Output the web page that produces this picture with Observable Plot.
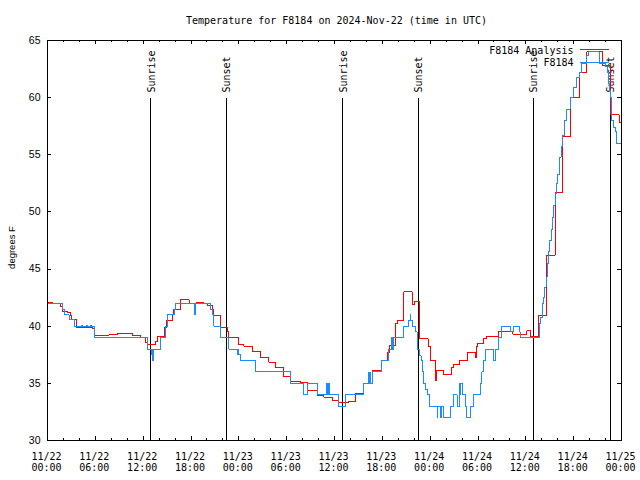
<!DOCTYPE html>
<html><head><meta charset="utf-8">
<script src="https://cdn.jsdelivr.net/npm/d3@7"></script>
<script src="https://cdn.jsdelivr.net/npm/@observablehq/plot@0.6"></script>
<style>
body{margin:0;background:#fff;}
svg path, svg line, svg rect {shape-rendering: crispEdges;}
</style>
</head><body><div id="chart"></div>
<script>
// ---- data (hours since 2024-11-22 00:00 UTC) ----
const startUTC = Date.UTC(2024, 10, 22);
const titleText = "Temperature for F8184 on 2024-Nov-22 (time in UTC)";
const yLabelText = "degrees F";
const seriesNames = ["F8184 Analysis", "F8184"];
const seriesColors = ["#ff0000", "#1a8cff"];
const yTicks = [30, 35, 40, 45, 50, 55, 60, 65];

const analysisHours = [0,0.62,1.67,1.92,2.5,2.84,3.04,3.67,5.63,5.84,7.72,8.77,10.6,11.69,12.32,12.53,13.57,13.86,14.62,14.95,15.66,15.79,16.7,17.75,18.71,19.63,20.04,20.67,20.88,21.72,22.55,22.76,24.01,24.64,25.77,26.73,27.78,28.61,29.66,30.5,31.74,32.66,33.83,34.66,35.7,36.54,37.8,38.63,39.68,40.72,41.85,42.69,42.94,43.65,43.86,44.69,45.74,46.07,46.7,47.74,48.03,48.66,48.78,49.7,50.63,50.96,51.71,52.71,53.67,53.8,53.97,54.72,55.05,56.6,58.39,60.14,60.56,61.6,62.55,63.66,64.66,65.66,66.7,67.67,69.6,70.57,71.7,72];
const analysisTemps = [42.1,42.0,41.7,41.3,41.2,40.9,40.6,39.9,39.8,39.2,39.3,39.4,39.2,39.0,38.6,38.4,38.7,39.1,39.9,40.5,41.0,41.5,42.3,42.0,42.1,42.0,41.8,41.5,40.9,39.9,39.5,39.0,38.4,38.25,37.8,37.3,36.85,36.35,35.6,35.2,35.05,34.4,33.9,33.8,33.5,33.35,33.4,34.1,35.0,36.1,37.0,37.7,38.3,40.2,40.5,43.0,41.9,42.2,38.9,38.2,37.0,35.25,36.1,35.75,36.35,36.65,37.0,37.7,37.3,38.2,38.5,38.9,39.1,39.5,39.3,39.6,39.1,40.9,46.2,51.7,56.6,60.0,62.2,64.0,62.8,58.5,57.85,57.85];

const obsHours = [0,1.88,2.08,2.71,3.34,4.3,4.4,4.9,5.0,5.4,5.5,5.84,12.52,13.05,13.12,13.2,13.3,14.2,14.82,15.03,15.87,16.08,18.46,18.52,20.46,20.67,20.88,21.72,22.76,23.8,23.9,24.0,24.2,26.1,30.5,32.17,32.58,33.83,35.0,35.1,35.3,35.4,36.54,37.37,39.67,40.3,40.36,40.42,40.48,40.72,41.85,42.81,43.1,43.15,43.2,43.25,43.44,44.69,45.32,45.5,45.58,45.74,46.16,46.37,46.66,46.87,47.0,47.19,47.4,47.7,47.95,48.87,48.95,49.28,49.36,49.7,50.53,50.95,51.37,51.7,51.75,51.8,52.1,52.42,52.55,53.05,53.47,54.3,54.5,54.72,54.93,55.89,56.2,56.6,57.0,58.06,58.48,59.23,59.3,61.73,61.9,62.11,62.24,62.36,62.53,62.66,62.83,63.0,63.16,63.33,63.5,63.66,63.83,63.95,64.2,64.45,64.6,64.86,65.15,65.57,65.99,66.4,66.74,67.04,67.6,67.9,69.2,70.0,70.2,70.4,70.55,70.6,70.7,70.8,70.95,71.2,71.4,72];
const obsTemps = [42.0,41.5,41.0,40.6,40.0,40.1,40.0,40.1,40.0,40.1,40.0,39.0,38.0,37.5,38.0,37.0,38.0,39.0,40.0,41.0,41.5,42.0,41.0,42.0,41.5,41.0,40.0,39.0,38.0,37.5,38.0,37.5,37.0,36.0,35.0,34.0,35.0,34.0,35.0,34.0,35.0,34.0,33.0,34.0,35.0,36.0,35.0,36.0,35.0,36.0,37.0,38.0,39.0,38.0,39.0,38.0,39.0,40.0,40.5,41.0,40.5,40.0,39.5,38.0,37.4,37.0,36.0,35.0,34.5,34.0,33.0,32.0,33.0,32.0,33.0,32.0,33.0,34.0,33.0,35.0,34.0,35.0,34.0,33.0,32.0,33.0,34.0,35.0,36.0,37.0,38.0,37.0,38.0,39.0,40.0,39.5,40.0,39.5,39.0,40.2,40.8,42.0,42.5,43.4,44.3,45.5,46.5,47.5,48.5,49.5,50.6,51.6,52.5,53.3,54.8,55.7,56.7,58.0,59.0,60.0,60.9,61.8,62.2,63.0,63.7,64.0,63.0,62.7,62.2,61.2,60.6,60.0,58.9,58.0,57.4,57.0,56.0,56.0];

const eventHours = [12.98, 22.47, 37.06, 46.57, 60.98, 70.6];
const eventLabels = ["Sunrise", "Sunset", "Sunrise", "Sunset", "Sunrise", "Sunset"];

// ---- build tables ----
const toDate = h => new Date(startUTC + h * 3600e3);
const analysis = analysisHours.map((h, i) => ({time: toDate(h), temp: analysisTemps[i]}));
const obs = obsHours.map((h, i) => ({time: toDate(h), temp: obsTemps[i]}));
const events = eventHours.map((h, i) => ({time: toDate(h), label: eventLabels[i]}));

const W = 640, H = 480, mL = 47, mR = 19, mT = 40, mB = 40;
const fw = W - mL - mR, fh = H - mT - mB;
const mono = "DejaVu Sans Mono";
const sans = "Liberation Sans";

const xMajor = d3.utcHour.every(6).range(toDate(0), toDate(72.01));
const xMinor = d3.utcHour.every(2).range(toDate(0), toDate(72.01)).filter(d => d.getUTCHours() % 6 !== 0);

const chart = Plot.plot({
  width: W, height: H,
  marginLeft: mL, marginRight: mR, marginTop: mT, marginBottom: mB,
  style: {fontFamily: mono, fontSize: "10px", background: "white", color: "black", overflow: "visible"},
  x: {type: "utc", domain: [toDate(0), toDate(72)]},
  y: {domain: [30, 65]},
  marks: [
    Plot.axisX({ticks: xMajor, tickSize: 0, tickPadding: 11, tickFormat: d3.utcFormat("%m/%d\n%H:%M"), label: null, lineHeight: 1.15, dx: -1, fontFamily: mono, fontSize: 10}),
    Plot.axisY({ticks: yTicks, tickSize: 0, tickPadding: 7, label: null, fontFamily: sans, fontSize: 10.5}),
    Plot.ruleX(xMajor, {insetTop: fh - 4}),
    Plot.ruleX(xMajor, {insetBottom: fh - 4}),
    Plot.ruleX(xMinor, {insetTop: fh - 2}),
    Plot.ruleX(xMinor, {insetBottom: fh - 2}),
    Plot.ruleY(yTicks, {insetRight: fw - 4}),
    Plot.ruleY(yTicks, {insetLeft: fw - 4}),
    Plot.ruleX(events, {x: "time", insetTop: 58}),
    Plot.text(events, {x: "time", text: "label", frameAnchor: "top", dy: 52, dx: 0.5, rotate: -90, textAnchor: "start", lineAnchor: "middle", fontFamily: mono, fontSize: 10}),
    Plot.line(analysis, {x: "time", y: "temp", curve: "step-after", stroke: seriesColors[0], strokeWidth: 1}),
    Plot.line(obs, {x: "time", y: "temp", curve: "step-after", stroke: seriesColors[1], strokeWidth: 1}),
    Plot.text([titleText], {frameAnchor: "top", lineAnchor: "middle", textAnchor: "middle", dy: -20, dx: 2, fontFamily: mono, fontSize: 10}),
    Plot.text([yLabelText], {frameAnchor: "left", textAnchor: "middle", lineAnchor: "middle", dx: -36, dy: 7, rotate: -90, fontFamily: sans, fontSize: 9.5}),
    Plot.text([seriesNames[0]], {frameAnchor: "top-right", textAnchor: "end", lineAnchor: "middle", dx: -48, dy: 10, fontFamily: mono, fontSize: 10}),
    Plot.text([seriesNames[1]], {frameAnchor: "top-right", textAnchor: "end", lineAnchor: "middle", dx: -48, dy: 22.5, fontFamily: mono, fontSize: 10}),
    Plot.frame({stroke: "black"})
  ]
});

// legend sample lines
const svg = d3.select(chart);
[0, 1].forEach(i => {
  svg.append("line")
    .attr("x1", W - mR - 41).attr("x2", W - mR - 12)
    .attr("y1", mT + 9 + 13 * i + 0.5).attr("y2", mT + 9 + 13 * i + 0.5)
    .attr("stroke", seriesColors[i]).attr("stroke-width", 1);
});

document.getElementById("chart").appendChild(chart);
</script>
</body></html>
